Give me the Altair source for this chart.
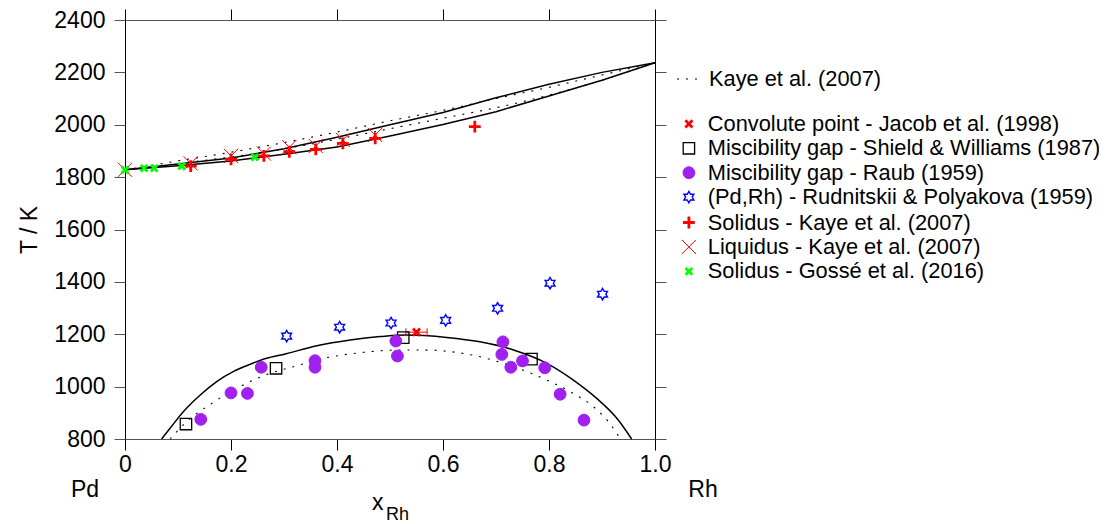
import altair as alt
import pandas as pd

# ---------------- data ----------------
# this-work phase boundaries (solid lines)
liq_x = [0, 0.1, 0.2, 0.3, 0.4, 0.5, 0.6, 0.7, 0.8, 0.9, 1.0]
liq_T = [1828, 1850, 1873, 1908, 1952, 2000, 2047, 2103, 2155, 2200, 2237]
sol_x = [0, 0.1, 0.2, 0.3, 0.4, 0.5, 0.6, 0.7, 0.8, 0.9, 1.0]
sol_T = [1828, 1843, 1862, 1887, 1915, 1957, 2001, 2050, 2110, 2170, 2237]
gap_x = [0.069, 0.085, 0.110, 0.142, 0.173, 0.204, 0.236, 0.267, 0.299, 0.362,
         0.425, 0.481, 0.530, 0.607, 0.670, 0.733, 0.796, 0.846, 0.890, 0.928, 0.956]
gap_T = [800, 841, 904, 968, 1019, 1057, 1085, 1108, 1123, 1156,
         1178, 1191, 1197, 1188, 1171, 1140, 1089, 1025, 955, 879, 800]

# Kaye et al. (2007) boundaries (dotted lines)
kliq_x = [0, 0.1, 0.2, 0.3, 0.4, 0.5, 0.6, 0.7, 0.8, 0.9, 1.0]
kliq_T = [1828, 1862, 1895, 1932, 1972, 2015, 2055, 2100, 2143, 2190, 2237]
ksol_x = [0, 0.1, 0.2, 0.3, 0.4, 0.5, 0.6, 0.7, 0.8, 0.9, 1.0]
ksol_T = [1828, 1852, 1877, 1908, 1945, 1985, 2025, 2065, 2113, 2170, 2237]
kgap_x = [0.085, 0.116, 0.164, 0.217, 0.274, 0.318, 0.374, 0.418, 0.460, 0.520,
          0.580, 0.607, 0.670, 0.733, 0.796, 0.846, 0.884, 0.912, 0.934]
kgap_T = [800, 866, 936, 1000, 1051, 1076, 1108, 1123, 1133, 1140,
          1139, 1135, 1114, 1076, 1025, 974, 923, 866, 803]
kaye_label = "Kaye et al. (2007)"

# experimental points
conv_x = [0.55]
conv_T = [1208]
conv_xerr = [0.02]
shield_x = [0.115, 0.285, 0.525, 0.767]
shield_T = [857, 1070, 1187, 1105]
raub_x = [0.143, 0.200, 0.231, 0.257, 0.3585, 0.3585, 0.511, 0.514,
          0.713, 0.711, 0.728, 0.750, 0.792, 0.821, 0.866]
raub_T = [875, 976, 974, 1074, 1099, 1074, 1174, 1117,
          1171, 1123, 1074, 1098, 1072, 971, 872]
rud_x = [0.305, 0.405, 0.502, 0.605, 0.703, 0.802, 0.901]
rud_T = [1193, 1227, 1243, 1253, 1299, 1395, 1353]
ksolp_x = [0.124, 0.200, 0.262, 0.310, 0.360, 0.411, 0.472, 0.660]
ksolp_T = [1842, 1868, 1881, 1897, 1906, 1929, 1948, 1993]
kliqp_x = [0.0, 0.124, 0.200, 0.262, 0.310, 0.360, 0.411, 0.472]
kliqp_T = [1828, 1852, 1881, 1890, 1914, 1919, 1942, 1961]
gosse_x = [0.0, 0.036, 0.055, 0.107, 0.245]
gosse_T = [1828, 1834, 1834, 1842, 1876]

series = [
    "Convolute point - Jacob et al. (1998)",
    "Miscibility gap - Shield & Williams (1987)",
    "Miscibility gap - Raub (1959)",
    "(Pd,Rh) - Rudnitskii & Polyakova (1959)",
    "Solidus - Kaye et al. (2007)",
    "Liquidus - Kaye et al. (2007)",
    "Solidus - Gossé et al. (2016)",
]
series_x = [conv_x, shield_x, raub_x, rud_x, ksolp_x, kliqp_x, gosse_x]
series_T = [conv_T, shield_T, raub_T, rud_T, ksolp_T, kliqp_T, gosse_T]

x_ticks = [0, 0.2, 0.4, 0.6, 0.8, 1.0]
y_ticks = [800, 1000, 1200, 1400, 1600, 1800, 2000, 2200, 2400]

# ---------------- tables ----------------
def curve_df(xs, ts, name, src=None):
    d = pd.DataFrame({"x": xs, "T": ts})
    d["curve"] = name
    if src is not None:
        d["src"] = src
    return d

solid_top = pd.concat([curve_df(liq_x, liq_T, "liq"), curve_df(sol_x, sol_T, "sol")])
solid_gap = curve_df(gap_x, gap_T, "gap")
dotted = pd.concat([
    curve_df(kliq_x, kliq_T, "kliq", kaye_label),
    curve_df(ksol_x, ksol_T, "ksol", kaye_label),
    curve_df(kgap_x, kgap_T, "kgap", kaye_label),
])
pts = pd.concat([
    pd.DataFrame({"x": xs, "T": ts, "series": s})
    for s, xs, ts in zip(series, series_x, series_T)
])
err = pd.DataFrame({"xlo": [a - e for a, e in zip(conv_x, conv_xerr)],
                    "xhi": [a + e for a, e in zip(conv_x, conv_xerr)],
                    "T": conv_T})
err_ends = pd.DataFrame({"x": list(err["xlo"]) + list(err["xhi"]),
                         "T": list(err["T"]) * 2})

# ---------------- styling ----------------
FONT = "Liberation Sans"
FS = 23
LFS = 21.8
xscale = alt.Scale(domain=[0, 1], nice=False, zero=False)
yscale = alt.Scale(domain=[800, 2400], nice=False, zero=False)

common_axis = dict(grid=False, ticks=True, tickSize=11, labelFont=FONT,
                   labelColor="black", labelFlush=False, labelOverlap=False)
ax_bottom = alt.Axis(orient="bottom", values=x_ticks, labels=True, labelPadding=3,
                     labelFontSize=FS, title=None,
                     labelExpr="datum.value == 0 ? '0' : format(datum.value, '.1f')",
                     domainColor="#555555", tickColor="black", **common_axis)
ax_top = alt.Axis(orient="top", values=x_ticks, labels=False, title=None,
                  domainColor="#555555", tickColor="black", **common_axis)
ax_left = alt.Axis(orient="left", values=y_ticks, labels=True, labelPadding=9,
                   labelFontSize=FS, format="d",
                   domainColor="black", tickColor="#555555", **common_axis,
                   title="T / K", titleFont=FONT, titleFontSize=FS,
                   titleFontWeight="normal", titleColor="black", titlePadding=12)
ax_right = alt.Axis(orient="right", values=y_ticks, labels=False, title=None,
                    domainColor="black", tickColor="#555555", **common_axis)

xtick_path = "M-0.75,-0.75L0.75,0.75M-0.75,0.75L0.75,-0.75"
plus_path = "M-1,0L1,0M0,-1L0,1"
xthin_path = "M-1,-1L1,1M-1,1L1,-1"
hexagram = ("M0,-1L0.289,-0.5L0.866,-0.5L0.577,0L0.866,0.5L0.289,0.5L0,1"
            "L-0.289,0.5L-0.866,0.5L-0.577,0L-0.866,-0.5L-0.289,-0.5Z")

shapes = [xtick_path, "square", "circle", hexagram, plus_path, xthin_path, xtick_path]
strokes = ["#ff0000", "#000000", "#a020f0", "#0000ff", "#ff0000", "#ff0000", "#00ff00"]
fills = ["transparent", "transparent", "#a020f0", "transparent",
         "transparent", "transparent", "transparent"]
swidths = [2.8, 1.3, 1, 1.4, 2.8, 1, 2.8]
sizes = [90, 130, 140, 130, 140, 200, 80]

pt_legend = alt.Legend(orient="none", legendX=553, legendY=93, title=None,
                       labelFont=FONT, labelFontSize=LFS, labelColor="black",
                       labelLimit=800, rowPadding=1.4, labelOffset=8, padding=0)

# ---------------- layers ----------------
l_solid = alt.Chart(solid_top).mark_line(color="black", strokeWidth=1.5).encode(
    x=alt.X("x:Q", scale=xscale, axis=ax_bottom),
    y=alt.Y("T:Q", scale=yscale, axis=ax_left),
    detail="curve:N",
)
l_gap = alt.Chart(solid_gap).mark_line(color="black", strokeWidth=1.5,
                                       interpolate="monotone").encode(
    x=alt.X("x:Q", scale=xscale, axis=ax_top),
    y=alt.Y("T:Q", scale=yscale, axis=ax_right),
    detail="curve:N",
)
l_dot = alt.Chart(dotted).mark_line(color="black", strokeWidth=1.1,
                                    interpolate="monotone").encode(
    x=alt.X("x:Q", scale=xscale, axis=None),
    y=alt.Y("T:Q", scale=yscale, axis=None),
    detail="curve:N",
    strokeDash=alt.StrokeDash(
        "src:N", scale=alt.Scale(domain=[kaye_label], range=[[2, 7]]),
        legend=alt.Legend(orient="none", legendX=551, legendY=46, title=None,
                          labelFont=FONT, labelFontSize=LFS, labelColor="black",
                          labelLimit=800, symbolSize=576, symbolType="stroke",
                          symbolStrokeColor="black", symbolStrokeWidth=1.1,
                          labelOffset=7, padding=0)),
)
l_err = alt.Chart(err).mark_rule(color="#ff0000", strokeWidth=1).encode(
    x=alt.X("xlo:Q", scale=xscale, axis=None),
    x2="xhi:Q",
    y=alt.Y("T:Q", scale=yscale, axis=None),
)
l_err_ends = alt.Chart(err_ends).mark_tick(color="#ff0000", orient="vertical",
                                           size=8, thickness=1, opacity=1).encode(
    x=alt.X("x:Q", scale=xscale, axis=None),
    y=alt.Y("T:Q", scale=yscale, axis=None),
)
l_pts = alt.Chart(pts).mark_point(opacity=1).encode(
    x=alt.X("x:Q", scale=xscale, axis=None),
    y=alt.Y("T:Q", scale=yscale, axis=None),
    shape=alt.Shape("series:N", scale=alt.Scale(domain=series, range=shapes), legend=pt_legend),
    stroke=alt.Stroke("series:N", scale=alt.Scale(domain=series, range=strokes), legend=pt_legend),
    fill=alt.Fill("series:N", scale=alt.Scale(domain=series, range=fills), legend=pt_legend),
    strokeWidth=alt.StrokeWidth("series:N", scale=alt.Scale(type="ordinal", domain=series, range=swidths),
                                legend=pt_legend),
    size=alt.Size("series:N", scale=alt.Scale(type="ordinal", domain=series, range=sizes),
                  legend=pt_legend),
)

ends = pd.DataFrame({"x": [0.0, 1.0], "lab": ["Pd", "Rh"]})
t_pd = alt.Chart(ends.iloc[[0]]).mark_text(font=FONT, fontSize=FS, dx=-40,
                                          baseline="middle", color="black").encode(
    x=alt.X("x:Q", scale=xscale, axis=None), y=alt.value(470), text="lab:N")
t_rh = alt.Chart(ends.iloc[[1]]).mark_text(font=FONT, fontSize=FS, dx=48,
                                          baseline="middle", color="black").encode(
    x=alt.X("x:Q", scale=xscale, axis=None), y=alt.value(470), text="lab:N")
t_x = alt.Chart(pd.DataFrame({"t": ["x"]})).mark_text(
    font=FONT, fontSize=FS, align="left", baseline="alphabetic", color="black").encode(
    x=alt.value(247), y=alt.value(490), text="t:N")
t_sub = alt.Chart(pd.DataFrame({"t": ["Rh"]})).mark_text(
    font=FONT, fontSize=18, align="left", baseline="alphabetic", color="black").encode(
    x=alt.value(261), y=alt.value(500), text="t:N")

chart = alt.layer(
    l_solid, l_gap, l_dot, l_err, l_err_ends, l_pts, t_pd, t_rh, t_x, t_sub
).resolve_axis(x="independent", y="independent").properties(
    width=530, height=419,
    padding={"left": 117, "top": 12, "right": 444, "bottom": 85},
    autosize=alt.AutoSizeParams(type="none"),
).configure_view(stroke="transparent").configure(font=FONT, background="white")

chart.save("out.html", embed_options={"renderer": "svg", "actions": False})
